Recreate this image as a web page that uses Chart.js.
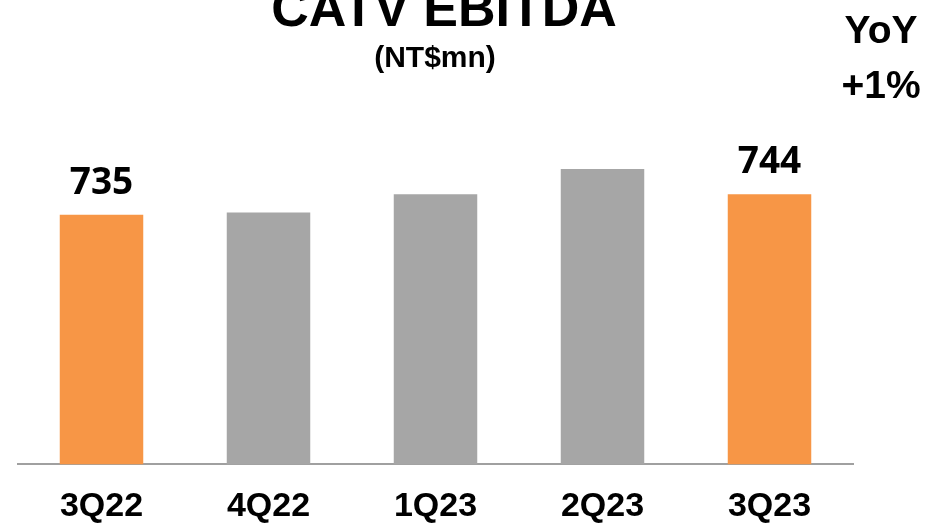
<!DOCTYPE html>
<html>
<head>
<meta charset="utf-8">
<script src="https://cdn.jsdelivr.net/npm/chart.js@4/dist/chart.umd.min.js"></script>
<style>
  html, body { margin: 0; padding: 0; background: #ffffff; }
  #wrap { position: relative; width: 951px; height: 524px; }
</style>
</head>
<body>
<div id="wrap"><canvas id="chart" width="951" height="524"></canvas></div>
<script>
// Quarterly CATV EBITDA, NT$ millions
const quarters = ['3Q22', '4Q22', '1Q23', '2Q23', '3Q23'];
const ebitda = [735, 736, 744, 755, 744];
// Quarters compared year over year are highlighted and labelled
const highlighted = [true, false, false, false, true];

const titleText = 'CATV EBITDA';
const unitText = '(NT$mn)';
const yoyLines = ['YoY', '+1%'];

const ORANGE = '#F79646';
const GREY = '#A6A6A6';
const SANS = '"Liberation Sans", Arial, sans-serif';

// Headline texts above the plot area
const headerPlugin = {
  id: 'header',
  afterDraw(chart) {
    const ctx = chart.ctx;
    ctx.save();
    ctx.fillStyle = '#000';
    ctx.textAlign = 'center';
    ctx.textBaseline = 'alphabetic';
    ctx.font = 'bold 52px ' + SANS;
    ctx.fillText(titleText, 444, 26);
    ctx.font = 'bold 30px ' + SANS;
    ctx.fillText(unitText, 435, 67);
    ctx.font = 'bold 39px ' + SANS;
    ctx.fillText(yoyLines[0], 881, 43);
    ctx.fillText(yoyLines[1], 881, 98);
    ctx.restore();
  }
};

// Value labels on the highlighted bars
const valueLabelPlugin = {
  id: 'valueLabels',
  afterDatasetsDraw(chart) {
    const ctx = chart.ctx;
    const meta = chart.getDatasetMeta(0);
    ctx.save();
    ctx.fillStyle = '#000';
    ctx.textAlign = 'center';
    ctx.textBaseline = 'alphabetic';
    ctx.font = 'bold 37px "Open Sans", Calibri, sans-serif';
    meta.data.forEach((bar, i) => {
      if (!highlighted[i]) return;
      ctx.fillText(String(ebitda[i]), bar.x, bar.y - 21);
    });
    ctx.restore();
  }
};

new Chart(document.getElementById('chart'), {
  type: 'bar',
  data: {
    labels: quarters,
    datasets: [{
      data: ebitda,
      backgroundColor: highlighted.map(h => h ? ORANGE : GREY),
      borderWidth: 0,
      categoryPercentage: 1.0,
      barPercentage: 0.5
    }]
  },
  options: {
    responsive: false,
    animation: false,
    devicePixelRatio: 1,
    layout: { padding: { top: 66, left: 18, right: 98, bottom: -25 } },
    plugins: {
      legend: { display: false },
      tooltip: { enabled: false }
    },
    scales: {
      x: {
        grid: { display: false, drawTicks: false },
        border: { display: true, color: '#A0A0A0', width: 2 },
        ticks: {
          color: '#000',
          padding: 22,
          font: { family: SANS, size: 34, weight: 'bold' }
        }
      },
      y: {
        display: false,
        min: 626,
        max: 800
      }
    }
  },
  plugins: [headerPlugin, valueLabelPlugin]
});
</script>
</body>
</html>
